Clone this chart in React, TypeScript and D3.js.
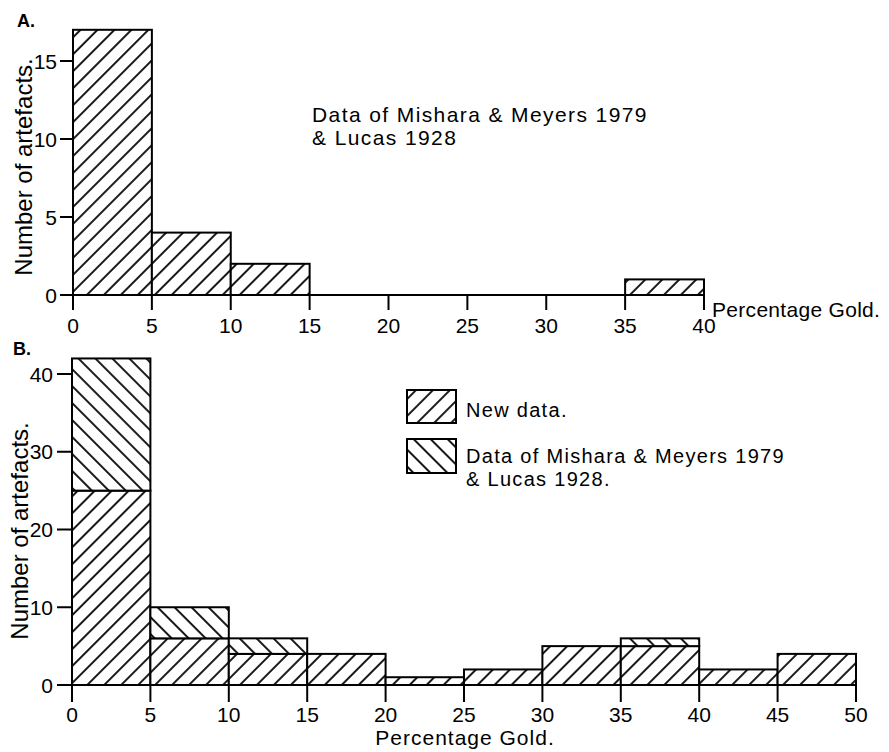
import React from "react";
import * as d3 from "d3";

// Histogram bins (percentage gold), lower edges, width 5
const binStarts = [0, 5, 10, 15, 20, 25, 30, 35, 40, 45];
const binWidth = 5;

// Counts of artefacts per bin
const misharaLucas = [17, 4, 2, 0, 0, 0, 0, 1, 0, 0];
const newData = [25, 6, 4, 4, 1, 2, 5, 5, 2, 4];

// Axis ticks
const ticksAX = [0, 5, 10, 15, 20, 25, 30, 35, 40];
const ticksAY = [0, 5, 10, 15];
const ticksBX = [0, 5, 10, 15, 20, 25, 30, 35, 40, 45, 50];
const ticksBY = [0, 10, 20, 30, 40];

const FONT = "'Liberation Sans', Arial, Helvetica, sans-serif";
const W = 889;
const H = 752;

export default function App() {
  // Panel A scales
  const xA = d3.scaleLinear().domain([0, 40]).range([73, 704]);
  const yA = d3.scaleLinear().domain([0, 15]).range([295, 61]);
  // Panel B scales
  const xB = d3.scaleLinear().domain([0, 50]).range([72, 856]);
  const yB = d3.scaleLinear().domain([0, 40]).range([685, 374]);

  const barsA = binStarts
    .map((s, i) => ({ s, v: misharaLucas[i] }))
    .filter((d) => d.v > 0 && d.s + binWidth <= 40);

  const barsB = binStarts.map((s, i) => ({
    s,
    n: newData[i],
    o: misharaLucas[i],
  }));

  const outline = { stroke: "#000", strokeWidth: 2, strokeLinejoin: "miter" as const };

  return (
    <svg
      width={W}
      height={H}
      viewBox={`0 0 ${W} ${H}`}
      style={{ position: "absolute", left: 0, top: 0, background: "#fff" }}
      fontFamily={FONT}
    >
      <defs>
        <pattern
          id="hatchFwd"
          patternUnits="userSpaceOnUse"
          width={12}
          height={12}
          patternTransform="rotate(45)"
        >
          <rect width={12} height={12} fill="#fff" />
          <line x1={6} y1={-1} x2={6} y2={13} stroke="#000" strokeWidth={1.8} />
        </pattern>
        <pattern
          id="hatchBack"
          patternUnits="userSpaceOnUse"
          width={12}
          height={12}
          patternTransform="rotate(-45)"
        >
          <rect width={12} height={12} fill="#fff" />
          <line x1={6} y1={-1} x2={6} y2={13} stroke="#000" strokeWidth={1.8} />
        </pattern>
      </defs>

      <rect width={W} height={H} fill="#fff" />

      {/* ---------- Panel A ---------- */}
      <text x={17} y={27} fontSize={18} fontWeight="bold">A.</text>

      {barsA.map((d) => (
        <rect
          key={`a${d.s}`}
          x={xA(d.s)}
          y={yA(d.v)}
          width={xA(d.s + binWidth) - xA(d.s)}
          height={yA(0) - yA(d.v)}
          fill="url(#hatchFwd)"
          {...outline}
        />
      ))}

      {/* x axis A */}
      <line x1={60} x2={xA(40)} y1={yA(0)} y2={yA(0)} stroke="#000" strokeWidth={2} />
      {ticksAX.map((t) => (
        <g key={`ax${t}`}>
          <line x1={xA(t)} x2={xA(t)} y1={yA(0)} y2={yA(0) + 15} stroke="#000" strokeWidth={2} />
          <text x={xA(t)} y={333} fontSize={21} textAnchor="middle">{t}</text>
        </g>
      ))}
      <text x={712} y={317} fontSize={21} letterSpacing={0.3}>Percentage Gold.</text>

      {/* y axis A */}
      <line x1={xA(0)} x2={xA(0)} y1={yA(0)} y2={yA(15)} stroke="#000" strokeWidth={2} />
      {ticksAY.map((t) => (
        <g key={`ay${t}`}>
          <line x1={60} x2={xA(0)} y1={yA(t)} y2={yA(t)} stroke="#000" strokeWidth={2} />
          <text x={57} y={yA(t) + 7.5} fontSize={21} textAnchor="end">{t}</text>
        </g>
      ))}
      <text
        transform="translate(32,167) rotate(-90)"
        fontSize={24}
        textAnchor="middle"
      >
        Number of artefacts.
      </text>

      <text x={312} y={122} fontSize={21} letterSpacing={1.4}>
        Data of Mishara &amp; Meyers  1979
      </text>
      <text x={312} y={145} fontSize={21} letterSpacing={1.4}>
        &amp; Lucas 1928
      </text>

      {/* ---------- Panel B ---------- */}
      <text x={13} y={355} fontSize={18} fontWeight="bold">B.</text>

      {barsB.map((d) => {
        const x0 = xB(d.s);
        const w = xB(d.s + binWidth) - xB(d.s);
        return (
          <g key={`b${d.s}`}>
            <rect
              x={x0}
              y={yB(d.n)}
              width={w}
              height={yB(0) - yB(d.n)}
              fill="url(#hatchFwd)"
              {...outline}
            />
            {d.o > 0 && (
              <rect
                x={x0}
                y={yB(d.n + d.o)}
                width={w}
                height={yB(d.n) - yB(d.n + d.o)}
                fill="url(#hatchBack)"
                {...outline}
              />
            )}
          </g>
        );
      })}

      {/* x axis B */}
      <line x1={57} x2={xB(50)} y1={yB(0)} y2={yB(0)} stroke="#000" strokeWidth={2} />
      {ticksBX.map((t) => (
        <g key={`bx${t}`}>
          <line x1={xB(t)} x2={xB(t)} y1={yB(0)} y2={yB(0) + 17} stroke="#000" strokeWidth={2} />
          <text x={xB(t)} y={722} fontSize={21} textAnchor="middle">{t}</text>
        </g>
      ))}
      <text x={465} y={745} fontSize={21} textAnchor="middle" letterSpacing={1}>
        Percentage Gold.
      </text>

      {/* y axis B */}
      <line x1={xB(0)} x2={xB(0)} y1={yB(0)} y2={yB(40)} stroke="#000" strokeWidth={2} />
      {ticksBY.map((t) => (
        <g key={`by${t}`}>
          <line x1={57} x2={xB(0)} y1={yB(t)} y2={yB(t)} stroke="#000" strokeWidth={2} />
          <text x={53} y={yB(t) + 7.5} fontSize={21} textAnchor="end">{t}</text>
        </g>
      ))}
      <text
        transform="translate(28,531) rotate(-90)"
        fontSize={24}
        textAnchor="middle"
      >
        Number of artefacts.
      </text>

      {/* Legend */}
      <rect x={407} y={390} width={49} height={33} fill="url(#hatchFwd)" {...outline} />
      <text x={466} y={417} fontSize={20} letterSpacing={1.3}>New data.</text>
      <rect x={407} y={439} width={49} height={34} fill="url(#hatchBack)" {...outline} />
      <text x={466} y={463} fontSize={20} letterSpacing={1.3}>
        Data of Mishara &amp; Meyers 1979
      </text>
      <text x={466} y={486} fontSize={20} letterSpacing={1.3}>
        &amp; Lucas 1928.
      </text>
    </svg>
  );
}
